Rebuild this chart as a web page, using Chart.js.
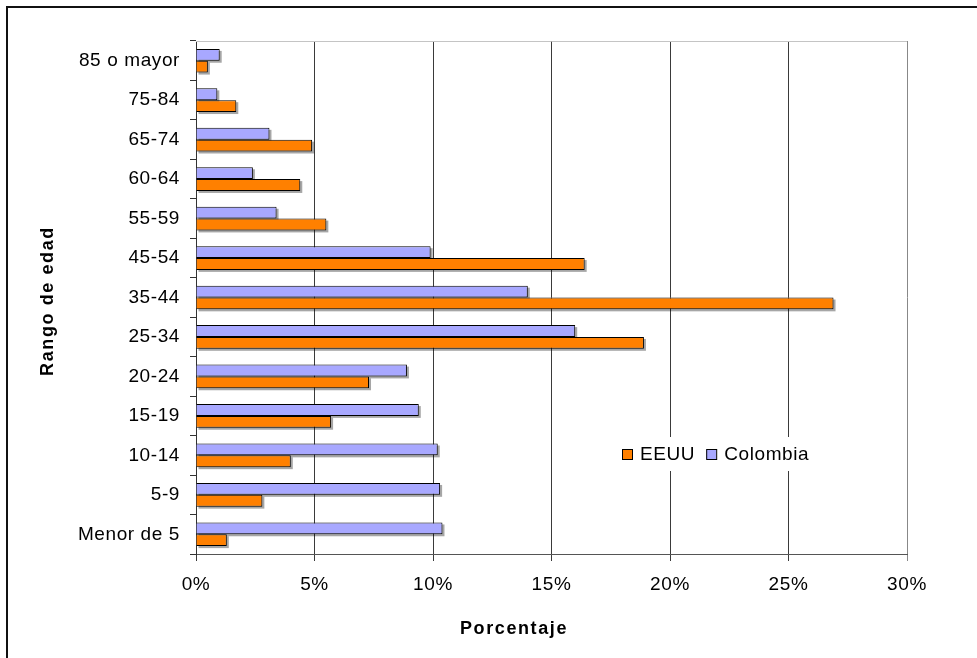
<!DOCTYPE html>
<html>
<head>
<meta charset="utf-8">
<script src="https://cdn.jsdelivr.net/npm/chart.js@4.4.1/dist/chart.umd.min.js"></script>
<style>
  html, body { margin: 0; padding: 0; background: #fff; }
  #frame { position: absolute; left: 6px; top: 6px; width: 1000px; height: 700px; border: 2px solid #111; }
  #wrap { position: absolute; left: 0; top: 0; width: 977px; height: 658px; }
</style>
</head>
<body>
<div id="frame"></div>
<div id="wrap"><canvas id="barChart"></canvas></div>
<script>
// age groups, bottom to top
const labels = ["Menor de 5", "5-9", "10-14", "15-19", "20-24", "25-34", "35-44", "45-54", "55-59", "60-64", "65-74", "75-84", "85 o mayor"];
const colombia = [10.4, 10.3, 10.2, 9.4, 8.9, 16.0, 14.0, 9.9, 3.4, 2.4, 3.1, 0.9, 1.0];
const eeuu = [1.3, 2.8, 4.0, 5.7, 7.3, 18.9, 26.9, 16.4, 5.5, 4.4, 4.9, 1.7, 0.5];
const xTicks = [0, 5, 10, 15, 20, 25, 30];

const FONT = "'Liberation Sans', Arial, sans-serif";

// small letter spacing for tick text (canvas state is reset on resize, so set it often)
const spacing = {
    id: "spacing",
    beforeLayout(chart) { chart.ctx.letterSpacing = "0.6px"; },
    beforeDraw(chart) { chart.ctx.letterSpacing = "0.6px"; }
};

// grey drop shadow behind each bar
const barShadow = {
    id: "barShadow",
    beforeDatasetsDraw(chart) {
        const ctx = chart.ctx;
        ctx.save();
        ctx.fillStyle = "rgba(0,0,0,0.35)";
        chart.data.datasets.forEach((ds, i) => {
            chart.getDatasetMeta(i).data.forEach(bar => {
                const h = bar.height;
                ctx.fillRect(bar.base + 2, bar.y - h / 2 + 2, bar.x - bar.base, h);
            });
        });
        ctx.restore();
    }
};

// plot frame, axis titles and the legend inside the plot
const extras = {
    id: "extras",
    afterDraw(chart) {
        const ctx = chart.ctx;
        const a = chart.chartArea;
        ctx.save();
        ctx.lineWidth = 1;
        ctx.strokeStyle = "#c4c4c4";
        ctx.beginPath();
        ctx.moveTo(a.left, a.top + 0.5);
        ctx.lineTo(a.right, a.top + 0.5);
        ctx.stroke();

        ctx.fillStyle = "#000";
        ctx.font = "bold 18px " + FONT;
        ctx.letterSpacing = "1.6px";
        ctx.textAlign = "center";
        ctx.textBaseline = "middle";
        ctx.fillText("Porcentaje", 514, 629);
        ctx.save();
        ctx.translate(48, 301);
        ctx.rotate(-Math.PI / 2);
        ctx.fillText("Rango de edad", 0, 0);
        ctx.restore();

        // legend
        ctx.fillStyle = "#fff";
        ctx.fillRect(612, 437, 210, 34);
        ctx.font = "19px " + FONT;
        ctx.letterSpacing = "0.6px";
        ctx.textAlign = "left";
        let x = 622;
        chart.data.datasets.slice().reverse().forEach(ds => {
            ctx.fillStyle = ds.backgroundColor;
            ctx.fillRect(x, 449, 10, 10);
            ctx.strokeStyle = "#000";
            ctx.strokeRect(x + 0.5, 449.5, 10, 10);
            ctx.fillStyle = "#000";
            ctx.fillText(ds.label, x + 18, 455);
            x += 18 + ctx.measureText(ds.label).width + 11;
        });
        ctx.restore();
    }
};

const ctxBar = document.getElementById("barChart").getContext("2d");
new Chart(ctxBar, {
    type: "bar",
    data: {
        labels: labels,
        datasets: [{
            label: "Colombia",
            data: colombia,
            backgroundColor: "#a8a8ff",
            borderColor: "#000",
            borderWidth: 1
        }, {
            label: "EEUU",
            data: eeuu,
            backgroundColor: "#ff8000",
            borderColor: "#000",
            borderWidth: 1
        }]
    },
    options: {
        indexAxis: "y",
        responsive: true,
        maintainAspectRatio: false,
        animation: false,
        categoryPercentage: 0.6,
        barPercentage: 1,
        layout: { padding: { left: 66, right: 70, top: 41, bottom: 44 } },
        plugins: {
            legend: { display: false },
            tooltip: { enabled: false }
        },
        scales: {
            x: {
                min: 0,
                max: 30,
                afterBuildTicks: (scale) => { scale.ticks = xTicks.map(v => ({ value: v })); },
                afterFit: (scale) => { scale.height = 60; },
                ticks: {
                    color: "#000",
                    padding: 12,
                    font: { family: FONT, size: 19 },
                    callback: (v) => v + "%"
                },
                grid: {
                    color: (c) => c.tick && c.tick.value === 30 ? "#888" : "#3a3a3a",
                    lineWidth: 1,
                    tickLength: 7
                },
                border: { color: "#555", width: 1 }
            },
            y: {
                reverse: true,
                afterFit: (scale) => { scale.width = 130; },
                ticks: {
                    color: "#000",
                    padding: 10,
                    font: { family: FONT, size: 19 }
                },
                grid: {
                    drawOnChartArea: false,
                    color: "#333",
                    tickLength: 6
                },
                border: { color: "#333", width: 1 }
            }
        }
    },
    plugins: [spacing, barShadow, extras]
});
</script>
</body>
</html>
